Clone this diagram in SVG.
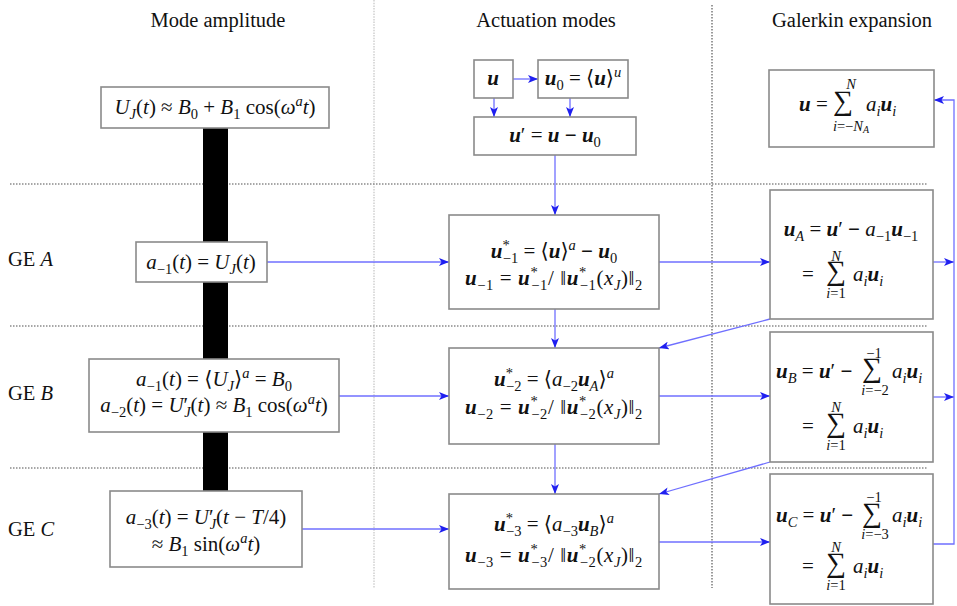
<svg xmlns="http://www.w3.org/2000/svg" width="957" height="606" viewBox="0 0 957 606">
<style>
.bg{fill:#fff}
.box{fill:#fff;stroke:#8a8a8a;stroke-width:1.6}
.m{font-family:"Liberation Serif","DejaVu Serif",serif;font-size:21px;fill:#111}
.ttl{font-family:"Liberation Serif","DejaVu Serif",serif;font-size:20.5px;fill:#111}
.i{font-style:italic}
.b{font-style:italic;font-weight:bold}
.bb{font-weight:bold}
.sb{font-size:14.5px}
.sig{font-size:28px}
.con{fill:none;stroke:#6f6fff;stroke-width:1.3}
.hd{stroke:#8a8a8a;stroke-width:1.3;stroke-dasharray:1.5 1.5;fill:none}
.vd1{stroke:#c8c8c8;stroke-width:1.3;stroke-dasharray:1.5 1.2;fill:none}
.vd2{stroke:#7a7a7a;stroke-width:1.5;stroke-dasharray:1.5 1.5;fill:none}
</style>
<defs>
<marker id="ah" markerUnits="userSpaceOnUse" markerWidth="11" markerHeight="8" refX="10" refY="4" orient="auto">
<path d="M0,0 L10,4 L0,8 L2.5,4 z" fill="#1f1ff0"/>
</marker>
</defs>
<rect class="bg" x="0" y="0" width="957" height="606"/>

<g id="grid">
<line class="vd1" x1="374" y1="0" x2="374" y2="588"/>
<line class="vd2" x1="712" y1="5" x2="712" y2="588"/>
<line class="hd" x1="10" y1="184" x2="928" y2="184"/>
<line class="hd" x1="10" y1="326" x2="928" y2="326"/>
<line class="hd" x1="10" y1="468" x2="928" y2="468"/>
<rect x="203" y="128" width="25" height="364" fill="#000"/>
</g>

<g id="titles">
<text class="ttl" x="218" y="27" text-anchor="middle">Mode amplitude</text>
<text class="ttl" x="546" y="27" text-anchor="middle">Actuation modes</text>
<text class="ttl" x="852" y="27" text-anchor="middle">Galerkin expansion</text>
<text class="ttl" x="8" y="266">GE <tspan class="i">A</tspan></text>
<text class="ttl" x="8" y="400">GE <tspan class="i">B</tspan></text>
<text class="ttl" x="8" y="536">GE <tspan class="i">C</tspan></text>
</g>

<g id="connectors">
<line class="con" x1="513" y1="79" x2="538" y2="79" marker-end="url(#ah)"/>
<line class="con" x1="494" y1="98" x2="494" y2="117" marker-end="url(#ah)"/>
<line class="con" x1="570" y1="98" x2="570" y2="117" marker-end="url(#ah)"/>
<line class="con" x1="555" y1="155" x2="555" y2="215" marker-end="url(#ah)"/>
<line class="con" x1="555" y1="309" x2="555" y2="348" marker-end="url(#ah)"/>
<line class="con" x1="555" y1="444" x2="555" y2="494" marker-end="url(#ah)"/>
<line class="con" x1="267" y1="262" x2="449" y2="262" marker-end="url(#ah)"/>
<line class="con" x1="339" y1="396" x2="449" y2="396" marker-end="url(#ah)"/>
<line class="con" x1="302" y1="529" x2="449" y2="529" marker-end="url(#ah)"/>
<line class="con" x1="659" y1="262" x2="770" y2="262" marker-end="url(#ah)"/>
<line class="con" x1="659" y1="396" x2="770" y2="396" marker-end="url(#ah)"/>
<line class="con" x1="659" y1="542" x2="770" y2="542" marker-end="url(#ah)"/>
<line class="con" x1="933" y1="262" x2="954" y2="262" marker-end="url(#ah)"/>
<line class="con" x1="933" y1="397" x2="954" y2="397" marker-end="url(#ah)"/>
<polyline class="con" points="933,544 954,544 954,100 934,100" marker-end="url(#ah)"/>
<line class="con" x1="770" y1="319" x2="659" y2="348" marker-end="url(#ah)"/>
<line class="con" x1="770" y1="462" x2="659" y2="494" marker-end="url(#ah)"/>
</g>

<g id="amp0">
<rect class="box" x="101" y="87" width="228" height="41"/>
<text class="m" x="215" y="114" text-anchor="middle"><tspan class="i">U</tspan><tspan class="sb i" dy="5">J</tspan><tspan dy="-5">(</tspan><tspan class="i">t</tspan>) ≈ <tspan class="i">B</tspan><tspan class="sb" dy="5">0</tspan><tspan dy="-5"> + </tspan><tspan class="i">B</tspan><tspan class="sb" dy="5">1</tspan><tspan dy="-5"> cos(</tspan><tspan class="i">ω</tspan><tspan class="sb i" dy="-8">a</tspan><tspan class="i" dy="8">t</tspan>)</text>
</g>

<g id="ampA">
<rect class="box" x="136" y="242" width="131" height="40"/>
<text class="m" x="201" y="269" text-anchor="middle"><tspan class="i">a</tspan><tspan class="sb" dy="5">−1</tspan><tspan dy="-5">(</tspan><tspan class="i">t</tspan>) = <tspan class="i">U</tspan><tspan class="sb i" dy="5">J</tspan><tspan dy="-5">(</tspan><tspan class="i">t</tspan>)</text>
</g>

<g id="ampB">
<rect class="box" x="89" y="359" width="250" height="73"/>
<text class="m" x="214" y="386" text-anchor="middle"><tspan class="i">a</tspan><tspan class="sb" dy="5">−1</tspan><tspan dy="-5">(</tspan><tspan class="i">t</tspan>) = ⟨<tspan class="i">U</tspan><tspan class="sb i" dy="5">J</tspan><tspan dy="-5">⟩</tspan><tspan class="sb i" dy="-8">a</tspan><tspan dy="8"> = </tspan><tspan class="i">B</tspan><tspan class="sb" dy="5">0</tspan></text>
<text class="m" x="214" y="412" text-anchor="middle"><tspan class="i">a</tspan><tspan class="sb" dy="5">−2</tspan><tspan dy="-5">(</tspan><tspan class="i">t</tspan>) = <tspan class="i">U</tspan>′<tspan class="sb i" dx="-4" dy="5">J</tspan><tspan dy="-5">(</tspan><tspan class="i">t</tspan>) ≈ <tspan class="i">B</tspan><tspan class="sb" dy="5">1</tspan><tspan dy="-5"> cos(</tspan><tspan class="i">ω</tspan><tspan class="sb i" dy="-8">a</tspan><tspan class="i" dy="8">t</tspan>)</text>
</g>

<g id="ampC">
<rect class="box" x="110" y="491" width="192" height="76"/>
<text class="m" x="206" y="524" text-anchor="middle"><tspan class="i">a</tspan><tspan class="sb" dy="5">−3</tspan><tspan dy="-5">(</tspan><tspan class="i">t</tspan>) = <tspan class="i">U</tspan>′<tspan class="sb i" dx="-4" dy="5">J</tspan><tspan dy="-5">(</tspan><tspan class="i">t</tspan> − <tspan class="i">T</tspan>/4)</text>
<text class="m" x="206" y="551" text-anchor="middle">≈ <tspan class="i">B</tspan><tspan class="sb" dy="5">1</tspan><tspan dy="-5"> sin(</tspan><tspan class="i">ω</tspan><tspan class="sb i" dy="-8">a</tspan><tspan class="i" dy="8">t</tspan>)</text>
</g>

<g id="nodeU">
<rect class="box" x="474" y="60" width="39" height="38"/>
<text class="m b" x="493" y="85" text-anchor="middle">u</text>
</g>

<g id="nodeU0">
<rect class="box" x="538" y="60" width="90" height="38"/>
<text class="m" x="583" y="85" text-anchor="middle"><tspan class="b">u</tspan><tspan class="sb" dy="5">0</tspan><tspan dy="-5"> = ⟨</tspan><tspan class="b">u</tspan>⟩<tspan class="sb i" dy="-8">u</tspan></text>
</g>

<g id="nodeUp">
<rect class="box" x="474" y="117" width="162" height="38"/>
<text class="m" x="555" y="142" text-anchor="middle"><tspan class="b">u</tspan>′ = <tspan class="b">u</tspan> <tspan class="bb">−</tspan> <tspan class="b">u</tspan><tspan class="sb" dy="5">0</tspan></text>
</g>

<g id="modeA">
<rect class="box" x="449" y="215" width="210" height="94"/>
<text class="m" x="554" y="258" text-anchor="middle"><tspan class="b">u</tspan><tspan class="sb" dy="-8">*</tspan><tspan class="sb" dx="-7" dy="13">−1</tspan><tspan dy="-5"> = ⟨</tspan><tspan class="b">u</tspan>⟩<tspan class="sb i" dy="-8">a</tspan><tspan dy="8"> </tspan><tspan class="bb">−</tspan> <tspan class="b">u</tspan><tspan class="sb" dy="5">0</tspan></text>
<text class="m" x="554" y="285" text-anchor="middle" letter-spacing="0.6"><tspan class="b">u</tspan><tspan class="sb" dy="5">−1</tspan><tspan dy="-5"> = </tspan><tspan class="b">u</tspan><tspan class="sb" dy="-8">*</tspan><tspan class="sb" dx="-7" dy="13">−1</tspan><tspan dy="-5">/ ‖</tspan><tspan class="b">u</tspan><tspan class="sb" dy="-8">*</tspan><tspan class="sb" dx="-7" dy="13">−1</tspan><tspan dy="-5">(</tspan><tspan class="i">x</tspan><tspan class="sb i" dy="5">J</tspan><tspan dy="-5">)‖</tspan><tspan class="sb" dy="5">2</tspan></text>
</g>

<g id="modeB">
<rect class="box" x="449" y="348" width="210" height="96"/>
<text class="m" x="554" y="386" text-anchor="middle"><tspan class="b">u</tspan><tspan class="sb" dy="-8">*</tspan><tspan class="sb" dx="-7" dy="13">−2</tspan><tspan dy="-5"> = ⟨</tspan><tspan class="i">a</tspan><tspan class="sb" dy="5">−2</tspan><tspan class="b" dy="-5">u</tspan><tspan class="sb i" dy="5">A</tspan><tspan dy="-5">⟩</tspan><tspan class="sb i" dy="-8">a</tspan></text>
<text class="m" x="554" y="414" text-anchor="middle" letter-spacing="0.6"><tspan class="b">u</tspan><tspan class="sb" dy="5">−2</tspan><tspan dy="-5"> = </tspan><tspan class="b">u</tspan><tspan class="sb" dy="-8">*</tspan><tspan class="sb" dx="-7" dy="13">−2</tspan><tspan dy="-5">/ ‖</tspan><tspan class="b">u</tspan><tspan class="sb" dy="-8">*</tspan><tspan class="sb" dx="-7" dy="13">−2</tspan><tspan dy="-5">(</tspan><tspan class="i">x</tspan><tspan class="sb i" dy="5">J</tspan><tspan dy="-5">)‖</tspan><tspan class="sb" dy="5">2</tspan></text>
</g>

<g id="modeC">
<rect class="box" x="449" y="494" width="210" height="95"/>
<text class="m" x="554" y="531" text-anchor="middle"><tspan class="b">u</tspan><tspan class="sb" dy="-8">*</tspan><tspan class="sb" dx="-7" dy="13">−3</tspan><tspan dy="-5"> = ⟨</tspan><tspan class="i">a</tspan><tspan class="sb" dy="5">−3</tspan><tspan class="b" dy="-5">u</tspan><tspan class="sb i" dy="5">B</tspan><tspan dy="-5">⟩</tspan><tspan class="sb i" dy="-8">a</tspan></text>
<text class="m" x="554" y="562" text-anchor="middle" letter-spacing="0.6"><tspan class="b">u</tspan><tspan class="sb" dy="5">−3</tspan><tspan dy="-5"> = </tspan><tspan class="b">u</tspan><tspan class="sb" dy="-8">*</tspan><tspan class="sb" dx="-7" dy="13">−3</tspan><tspan dy="-5">/ ‖</tspan><tspan class="b">u</tspan><tspan class="sb" dy="-8">*</tspan><tspan class="sb" dx="-7" dy="13">−2</tspan><tspan dy="-5">(</tspan><tspan class="i">x</tspan><tspan class="sb i" dy="5">J</tspan><tspan dy="-5">)‖</tspan><tspan class="sb" dy="5">2</tspan></text>
</g>

<g id="galTop">
<rect class="box" x="769" y="70" width="165" height="77"/>
<text class="m" x="799" y="111"><tspan class="b">u</tspan> =</text>
<text class="m sig" x="843" y="110" text-anchor="middle">∑</text>
<text class="m sb i" x="851" y="89" text-anchor="middle">N</text>
<text class="m sb" x="851" y="131" text-anchor="middle"><tspan class="i">i</tspan>=−<tspan class="i">N</tspan><tspan font-size="10" dy="2" class="i">A</tspan></text>
<text class="m" x="866" y="111"><tspan class="i">a</tspan><tspan class="sb i" dy="5">i</tspan><tspan class="b" dy="-5">u</tspan><tspan class="sb i" dy="5">i</tspan></text>
</g>

<g id="galA">
<rect class="box" x="770" y="190" width="163" height="129"/>
<text class="m" x="851" y="236" text-anchor="middle"><tspan class="b">u</tspan><tspan class="sb i" dy="5">A</tspan><tspan dy="-5"> = </tspan><tspan class="b">u</tspan>′ <tspan class="bb">−</tspan> <tspan class="i">a</tspan><tspan class="sb" dy="5">−1</tspan><tspan class="b" dy="-5">u</tspan><tspan class="sb" dy="5">−1</tspan></text>
<text class="m" x="802" y="281">=</text>
<text class="m sig" x="836" y="280" text-anchor="middle">∑</text>
<text class="m sb i" x="836" y="261" text-anchor="middle">N</text>
<text class="m sb" x="836" y="298" text-anchor="middle"><tspan class="i">i</tspan>=1</text>
<text class="m" x="853" y="281"><tspan class="i">a</tspan><tspan class="sb i" dy="5">i</tspan><tspan class="b" dy="-5">u</tspan><tspan class="sb i" dy="5">i</tspan></text>
</g>

<g id="galB">
<rect class="box" x="770" y="332" width="163" height="130"/>
<text class="m" x="776" y="378"><tspan class="b">u</tspan><tspan class="sb i" dy="5">B</tspan><tspan dy="-5"> = </tspan><tspan class="b">u</tspan>′ <tspan class="bb">−</tspan></text>
<text class="m sig" x="872" y="377" text-anchor="middle">∑</text>
<text class="m sb" x="874" y="358" text-anchor="middle">−1</text>
<text class="m sb" x="875" y="395" text-anchor="middle"><tspan class="i">i</tspan>=−2</text>
<text class="m" x="892" y="378"><tspan class="i">a</tspan><tspan class="sb i" dy="5">i</tspan><tspan class="b" dy="-5">u</tspan><tspan class="sb i" dy="5">i</tspan></text>
<text class="m" x="802" y="433">=</text>
<text class="m sig" x="836" y="432" text-anchor="middle">∑</text>
<text class="m sb i" x="836" y="412" text-anchor="middle">N</text>
<text class="m sb" x="836" y="450" text-anchor="middle"><tspan class="i">i</tspan>=1</text>
<text class="m" x="853" y="433"><tspan class="i">a</tspan><tspan class="sb i" dy="5">i</tspan><tspan class="b" dy="-5">u</tspan><tspan class="sb i" dy="5">i</tspan></text>
</g>

<g id="galC">
<rect class="box" x="770" y="474" width="163" height="130"/>
<text class="m" x="776" y="522"><tspan class="b">u</tspan><tspan class="sb i" dy="5">C</tspan><tspan dy="-5"> = </tspan><tspan class="b">u</tspan>′ <tspan class="bb">−</tspan></text>
<text class="m sig" x="872" y="522" text-anchor="middle">∑</text>
<text class="m sb" x="874" y="502" text-anchor="middle">−1</text>
<text class="m sb" x="875" y="539" text-anchor="middle"><tspan class="i">i</tspan>=−3</text>
<text class="m" x="892" y="522"><tspan class="i">a</tspan><tspan class="sb i" dy="5">i</tspan><tspan class="b" dy="-5">u</tspan><tspan class="sb i" dy="5">i</tspan></text>
<text class="m" x="802" y="573">=</text>
<text class="m sig" x="836" y="572" text-anchor="middle">∑</text>
<text class="m sb i" x="836" y="552" text-anchor="middle">N</text>
<text class="m sb" x="836" y="590" text-anchor="middle"><tspan class="i">i</tspan>=1</text>
<text class="m" x="853" y="573"><tspan class="i">a</tspan><tspan class="sb i" dy="5">i</tspan><tspan class="b" dy="-5">u</tspan><tspan class="sb i" dy="5">i</tspan></text>
</g>
</svg>
